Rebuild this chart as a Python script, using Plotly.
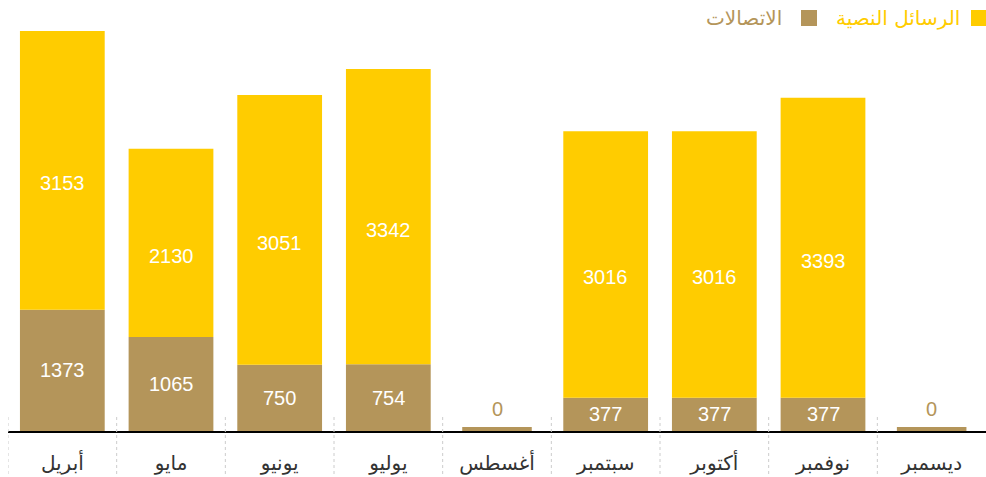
import plotly.graph_objects as go

months = ["أبريل", "مايو", "يونيو", "يوليو", "أغسطس", "سبتمبر", "أكتوبر", "نوفمبر", "ديسمبر"]
calls = [1373, 1065, 750, 754, 0, 377, 377, 377, 0]
sms = [3153, 2130, 3051, 3342, 0, 3016, 3016, 3393, 0]
series_names = ["الاتصالات", "الرسائل النصية"]

BROWN = "#B4955A"
YELLOW = "#FFCC00"
W, H = 986, 477
ML, MR, MT, MB = 8, 0, 31, 46
plot_h = H - MT - MB
plot_w = W - ML - MR

totals = [c + s for c, s in zip(calls, sms)]
ymax = max(totals)
u = ymax / plot_h  # data units per pixel

fig = go.Figure()
fig.add_bar(x=months, y=calls, marker_color=BROWN, marker_line_width=0, name=series_names[0], hoverinfo="x+y")
fig.add_bar(x=months, y=sms, base=calls, marker_color=YELLOW, marker_line_width=0, name=series_names[1], hoverinfo="x+y")

# zero-valued categories drawn as a thin min-length bar
zero_x = [m for m, t in zip(months, totals) if t == 0]
fig.add_bar(x=zero_x, y=[4 * u] * len(zero_x), base=[0] * len(zero_x),
            marker_color=BROWN, marker_line_width=0, width=0.64, hoverinfo="skip", showlegend=False)

ann = []
NUMF = "Liberation Sans, Arial, sans-serif"
lab_font = dict(family=NUMF, size=20, color="white")
for m, c, s in zip(months, calls, sms):
    if c + s == 0:
        ann.append(dict(x=m, y=0, text="0", showarrow=False, yanchor="bottom", yshift=9,
                        font=dict(family=NUMF, size=20, color=BROWN)))
        continue
    if c > 0:
        ann.append(dict(x=m, y=c / 2, text=str(c), showarrow=False, font=lab_font))
    if s > 0:
        ann.append(dict(x=m, y=c + s / 2, text=str(s), showarrow=False, yshift=-13, font=lab_font))

# custom RTL legend (swatch on the right of the text)
def px_x(p):
    return (p - ML) / plot_w

def px_y(p):
    return (H - MB - p) / plot_h

leg_font = "DejaVu Sans, sans-serif"
ann.append(dict(xref="paper", yref="paper", x=px_x(962), y=px_y(18), xanchor="right", yanchor="middle",
                text=series_names[1], showarrow=False, font=dict(family=leg_font, size=20, color=YELLOW)))
ann.append(dict(xref="paper", yref="paper", x=px_x(784), y=px_y(18), xanchor="right", yanchor="middle",
                text=series_names[0], showarrow=False, font=dict(family=leg_font, size=20, color=BROWN)))

shapes = [
    dict(type="rect", xref="paper", yref="paper", x0=px_x(971), x1=px_x(986), y0=px_y(26), y1=px_y(10),
         fillcolor=YELLOW, line_width=0),
    dict(type="rect", xref="paper", yref="paper", x0=px_x(801), x1=px_x(817), y0=px_y(26), y1=px_y(10),
         fillcolor=BROWN, line_width=0),
]
for i in range(len(months)):
    shapes.append(dict(type="line", xref="x", yref="paper", x0=i - 0.5, x1=i - 0.5,
                       y0=px_y(417), y1=px_y(477), line=dict(color="#cccccc", width=1, dash="dot")))

fig.update_layout(
    width=W, height=H,
    margin=dict(l=ML, r=MR, t=MT, b=MB, pad=0),
    barmode="overlay", bargap=0.22,
    plot_bgcolor="white", paper_bgcolor="white",
    showlegend=False,
    annotations=ann, shapes=shapes,
    xaxis=dict(range=[-0.5, len(months) - 0.5], showline=True, linecolor="black", linewidth=2,
               ticks="outside", ticklen=13, tickcolor="rgba(0,0,0,0)", showgrid=False,
               tickfont=dict(family="DejaVu Sans, sans-serif", size=20, color="#333333"),
               layer="below traces", fixedrange=True),
    yaxis=dict(range=[0, ymax], visible=False, showgrid=False, fixedrange=True),
)

fig.write_html("out.html", config={"displayModeBar": False},
               post_script="document.body.style.margin='0';document.body.style.overflow='hidden';")
